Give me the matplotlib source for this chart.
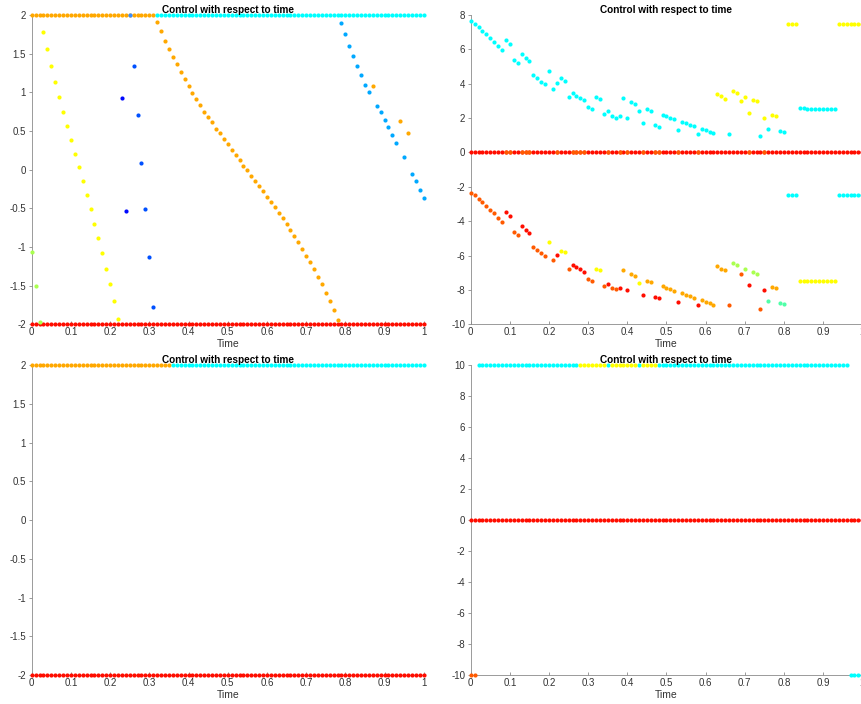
import numpy as np
import matplotlib
matplotlib.use('Agg')
import matplotlib.pyplot as plt
from matplotlib.ticker import FuncFormatter, MultipleLocator

plt.rcParams['font.family'] = ['Liberation Sans', 'DejaVu Sans']
plt.rcParams['axes.unicode_minus'] = False

# colours (jet-like)
RED = '#ff0d00'
ORED = '#ff5a00'
ORANGE = '#ffa800'
YELLOW = '#ffff00'
LGREEN = '#aaff50'
GCYAN = '#50ffa8'
CYAN = '#00ffff'
SKY = '#00a8ff'
BLUE = '#0050ff'
DBLUE = '#0008ff'
LBLUE = '#3a8cff'

t = np.arange(101) / 100  # time grid

# ---------------- top left ----------------
tl_hi = 2.0
tl_lo = -2.0
tl_orange_top_idx = list(range(0, 32))
tl_cyan_top_idx = list(range(32, 101))

tl_green_t = [0.00, 0.01, 0.02]
tl_green_y = [-1.06, -1.51, -1.97]

tl_yellow_t = [0.03, 0.04, 0.05, 0.06, 0.07, 0.08, 0.09, 0.10, 0.11, 0.12,
               0.13, 0.14, 0.15, 0.16, 0.17, 0.18, 0.19, 0.20, 0.21, 0.22]
tl_yellow_y = [1.78, 1.56, 1.34, 1.14, 0.94, 0.75, 0.57, 0.38, 0.20, 0.03,
               -0.15, -0.33, -0.51, -0.70, -0.88, -1.08, -1.28, -1.48, -1.70, -1.93]

tl_dblue_t = [0.23, 0.24]
tl_dblue_y = [0.93, -0.53]
tl_lblue_t = [0.25]
tl_lblue_y = [2.0]
tl_blue_t = [0.26, 0.27, 0.28, 0.29, 0.30, 0.31]
tl_blue_y = [1.34, 0.71, 0.09, -0.51, -1.13, -1.77]

tl_odiag_t = [0.32, 0.33, 0.34, 0.35, 0.36, 0.37, 0.38, 0.39, 0.40, 0.41,
              0.42, 0.43, 0.44, 0.45, 0.46, 0.47, 0.48, 0.49, 0.50, 0.51,
              0.52, 0.53, 0.54, 0.55, 0.56, 0.57, 0.58, 0.59, 0.60, 0.61,
              0.62, 0.63, 0.64, 0.65, 0.66, 0.67, 0.68, 0.69, 0.70, 0.71,
              0.72, 0.73, 0.74, 0.75, 0.76, 0.77, 0.78]
tl_odiag_y = [1.91, 1.79, 1.67, 1.56, 1.46, 1.36, 1.26, 1.17, 1.08, 0.99,
              0.91, 0.83, 0.75, 0.68, 0.61, 0.53, 0.47, 0.40, 0.33, 0.26,
              0.19, 0.12, 0.05, -0.01, -0.08, -0.15, -0.21, -0.28, -0.35, -0.42,
              -0.48, -0.56, -0.63, -0.70, -0.78, -0.86, -0.94, -1.02, -1.11, -1.20,
              -1.29, -1.39, -1.48, -1.59, -1.70, -1.82, -1.95]

tl_sky_t = [0.79, 0.80, 0.81, 0.82, 0.83, 0.84, 0.85, 0.86, 0.88, 0.89,
            0.90, 0.91, 0.92, 0.93, 0.95, 0.97, 0.98, 0.99, 1.00]
tl_sky_y = [1.90, 1.75, 1.60, 1.47, 1.34, 1.22, 1.09, 1.00, 0.82, 0.74,
            0.64, 0.55, 0.45, 0.35, 0.16, -0.05, -0.15, -0.26, -0.36]

tl_oext_t = [0.87, 0.94, 0.96]
tl_oext_y = [1.08, 0.63, 0.48]

# ---------------- top right ----------------
tr_cyan_idx = list(range(0, 63)) + [66, 74, 76, 79, 80]
tr_cyan_y = [7.63, 7.47, 7.30, 7.09, 6.87, 6.66, 6.44, 6.21, 5.96, 6.52,
             6.31, 5.38, 5.20, 5.73, 5.47, 5.30, 4.48, 4.31, 4.13, 3.98,
             4.76, 3.71, 4.04, 4.33, 4.17, 3.20, 3.46, 3.30, 3.16, 3.05,
             2.62, 2.54, 3.24, 3.13, 2.25, 2.39, 2.10, 2.02, 2.12, 3.16,
             1.98, 2.91, 2.80, 2.43, 1.73, 2.52, 2.43, 1.57, 1.51, 2.17,
             2.10, 2.02, 1.94, 1.30, 1.79, 1.69, 1.61, 1.53, 1.09, 1.38,
             1.28, 1.20, 1.11, 1.09, 0.93, 1.36, 1.24, 1.18]

tr_yel_up_idx = [63, 64, 65, 67, 68, 69, 70, 71, 72, 73, 75, 77, 78]
tr_yel_up_y = [3.40, 3.26, 3.13, 3.55, 3.44, 2.99, 3.24, 2.29, 3.07, 2.97, 2.00, 2.19, 2.15]

tr_yel_hi_idx = [81, 82, 83, 94, 95, 96, 97, 98, 99, 100]
tr_yel_hi = 7.5
tr_cyan_mid_idx = list(range(84, 94))
tr_cyan_mid_y = [2.56, 2.56, 2.55, 2.54, 2.54, 2.54, 2.54, 2.54, 2.54, 2.54]

tr_zero_ored_idx = [9, 10, 13, 14, 15, 22, 26, 27, 28, 29, 35, 38, 40, 44,
                    47, 48, 53, 58, 71, 75]

tr_lo_ored_idx = [0, 1, 2, 3, 4, 5, 6, 7, 8, 11, 12, 16, 17, 18, 19, 21, 25,
                  30, 31, 34, 36, 37, 66, 69, 74]
tr_lo_ored_y = [-2.33, -2.50, -2.70, -2.89, -3.11, -3.32, -3.53, -3.79, -4.04,
                -4.60, -4.78, -5.49, -5.67, -5.84, -6.00, -6.27, -6.78,
                -7.36, -7.46, -7.75, -7.88, -7.94, -8.89, -7.05, -9.09]
tr_lo_red_idx = [9, 10, 13, 14, 15, 22, 26, 27, 28, 29, 35, 38, 40, 44,
                 47, 48, 53, 58, 71, 75]
tr_lo_red_y = [-3.48, -3.67, -4.27, -4.50, -4.70, -5.94, -6.56, -6.68, -6.79,
               -6.93, -7.63, -7.86, -8.00, -8.29, -8.41, -8.47, -8.68, -8.89,
               -7.73, -8.00]
tr_lo_yel_idx = [20, 23, 24, 32, 33, 43]
tr_lo_yel_y = [-5.22, -5.71, -5.82, -6.76, -6.85, -7.57]
tr_lo_orange_idx = [39, 41, 42, 45, 46, 49, 50, 51, 52, 54, 55, 56, 57, 59,
                    60, 61, 62, 63, 64, 65, 77, 78]
tr_lo_orange_y = [-6.83, -7.09, -7.18, -7.46, -7.55, -7.79, -7.90, -7.96,
                  -8.04, -8.19, -8.29, -8.37, -8.45, -8.60, -8.70, -8.77,
                  -8.87, -6.62, -6.76, -6.83, -7.80, -7.86]
tr_lo_green_idx = [67, 68, 70, 72, 73]
tr_lo_green_y = [-6.45, -6.56, -6.76, -6.95, -7.05]
tr_lo_gcyan_idx = [76, 79, 80]
tr_lo_gcyan_y = [-8.64, -8.76, -8.81]

tr_cyan_lo_idx = [81, 82, 83, 94, 95, 96, 97, 98, 99, 100]
tr_cyan_lo = -2.5
tr_yel_lo_idx = list(range(84, 94))
tr_yel_lo = -7.5

# ---------------- bottom left ----------------
bl_hi = 2.0
bl_lo = -2.0
bl_orange_idx = list(range(0, 36))
bl_cyan_idx = list(range(36, 101))

# ---------------- bottom right ----------------
br_hi = 10.0
br_lo = -10.0
br_cyan_hi_idx = list(range(2, 28)) + [35, 43] + list(range(48, 97))
br_yel_hi_idx = list(range(28, 35)) + list(range(36, 43)) + list(range(44, 48))
br_ored_lo_idx = [0, 1]
br_cyan_lo_idx = [97, 98, 99, 100]


def dots(ax, x, y, c):
    x = np.asarray(x, dtype=float)
    y = np.broadcast_to(np.asarray(y, dtype=float), x.shape)
    ax.plot(x, y, 'o', ms=3.0, mew=0, color=c, clip_on=False, zorder=3)


def style(ax, ylim, ystep):
    ax.set_xlim(0, 1)
    ax.set_ylim(*ylim)
    ax.xaxis.set_major_locator(MultipleLocator(0.1))
    ax.yaxis.set_major_locator(MultipleLocator(ystep))
    fmt = FuncFormatter(lambda v, p: f'{round(v, 6):g}')
    ax.xaxis.set_major_formatter(fmt)
    ax.yaxis.set_major_formatter(fmt)
    for s in ['top', 'right']:
        ax.spines[s].set_visible(False)
    for s in ['left', 'bottom']:
        ax.spines[s].set_color('#8a8a8a')
        ax.spines[s].set_linewidth(0.6)
    ax.tick_params(axis='x', direction='in', length=2.5, width=0.6,
                   color='#8a8a8a', labelsize=7, labelcolor='#333333', pad=2)
    ax.tick_params(axis='y', direction='out', length=2.5, width=0.6,
                   color='#8a8a8a', labelsize=7, labelcolor='#333333', pad=1.5)
    ax.set_title('Control with respect to time', fontsize=7.2,
                 fontweight='bold', pad=1.5)
    ax.set_xlabel('Time', fontsize=7.5, color='#333333', labelpad=1.5)


fig = plt.figure(figsize=(8.62, 7.04), dpi=100)
ax_tl = fig.add_axes([0.0368, 0.5393, 0.4548, 0.4394])
ax_tr = fig.add_axes([0.5461, 0.5393, 0.4542, 0.4394])
ax_bl = fig.add_axes([0.0368, 0.0412, 0.4548, 0.4403])
ax_br = fig.add_axes([0.5461, 0.0412, 0.4542, 0.4403])

# top left
ax = ax_tl
style(ax, (-2, 2), 0.5)
dots(ax, t[tl_orange_top_idx], tl_hi, ORANGE)
dots(ax, t[tl_cyan_top_idx], tl_hi, CYAN)
dots(ax, t, tl_lo, RED)
dots(ax, tl_green_t, tl_green_y, LGREEN)
dots(ax, tl_yellow_t, tl_yellow_y, YELLOW)
dots(ax, tl_dblue_t, tl_dblue_y, DBLUE)
dots(ax, tl_lblue_t, tl_lblue_y, LBLUE)
dots(ax, tl_blue_t, tl_blue_y, BLUE)
dots(ax, tl_odiag_t, tl_odiag_y, ORANGE)
dots(ax, tl_sky_t, tl_sky_y, SKY)
dots(ax, tl_oext_t, tl_oext_y, ORANGE)

# top right
ax = ax_tr
style(ax, (-10, 8), 2)
dots(ax, t[tr_cyan_idx], tr_cyan_y, CYAN)
dots(ax, t[tr_yel_up_idx], tr_yel_up_y, YELLOW)
dots(ax, t[tr_yel_hi_idx], tr_yel_hi, YELLOW)
dots(ax, t[tr_cyan_mid_idx], tr_cyan_mid_y, CYAN)
dots(ax, t, 0.0, RED)
dots(ax, t[tr_zero_ored_idx], 0.0, ORED)
dots(ax, t[tr_lo_ored_idx], tr_lo_ored_y, ORED)
dots(ax, t[tr_lo_red_idx], tr_lo_red_y, RED)
dots(ax, t[tr_lo_yel_idx], tr_lo_yel_y, YELLOW)
dots(ax, t[tr_lo_orange_idx], tr_lo_orange_y, ORANGE)
dots(ax, t[tr_lo_green_idx], tr_lo_green_y, LGREEN)
dots(ax, t[tr_lo_gcyan_idx], tr_lo_gcyan_y, GCYAN)
dots(ax, t[tr_cyan_lo_idx], tr_cyan_lo, CYAN)
dots(ax, t[tr_yel_lo_idx], tr_yel_lo, YELLOW)

# bottom left
ax = ax_bl
style(ax, (-2, 2), 0.5)
dots(ax, t[bl_orange_idx], bl_hi, ORANGE)
dots(ax, t[bl_cyan_idx], bl_hi, CYAN)
dots(ax, t, bl_lo, RED)

# bottom right
ax = ax_br
style(ax, (-10, 10), 2)
dots(ax, t[br_cyan_hi_idx], br_hi, CYAN)
dots(ax, t[br_yel_hi_idx], br_hi, YELLOW)
dots(ax, t, 0.0, RED)
dots(ax, t[br_ored_lo_idx], br_lo, ORED)
dots(ax, t[br_cyan_lo_idx], br_lo, CYAN)

fig.savefig('out.png', dpi=100)
